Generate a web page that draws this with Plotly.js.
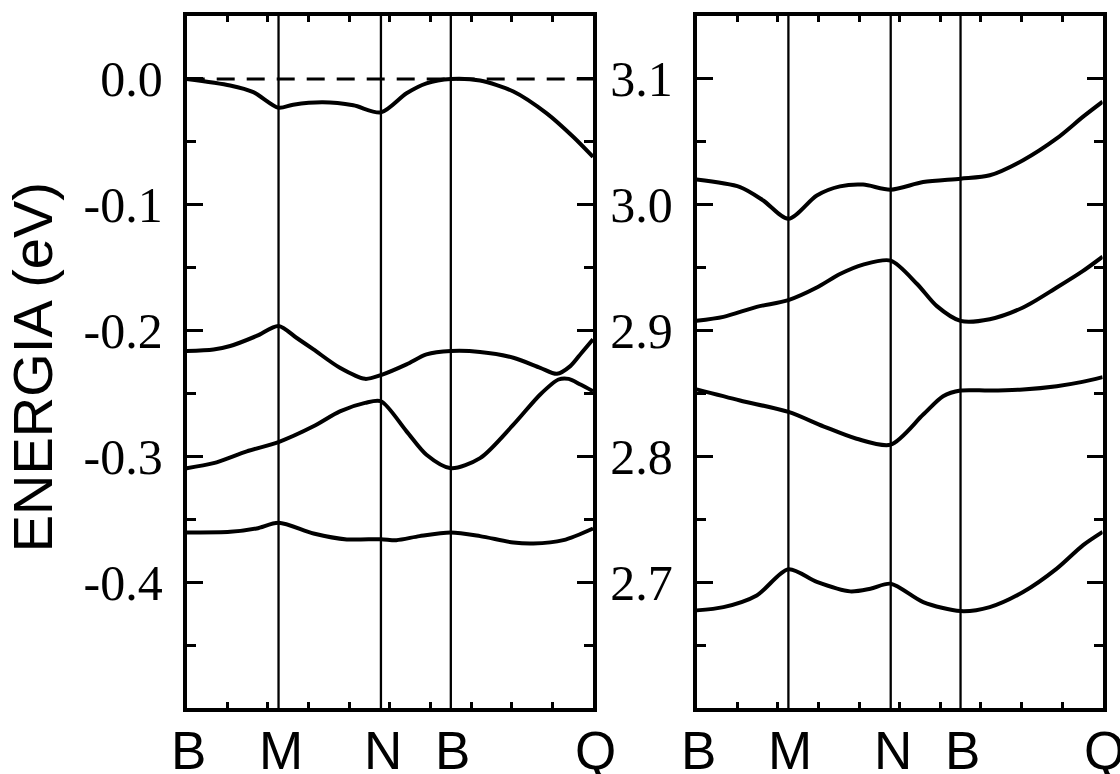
<!DOCTYPE html>
<html>
<head>
<meta charset="utf-8">
<script src="https://cdn.plot.ly/plotly-3.0.1.min.js"></script>
<style>html,body{margin:0;padding:0;background:#fff;}#chart{width:1120px;height:774px;}</style>
</head>
<body>
<div id="chart"></div>
<script>
// High-symmetry points along the path (fraction of path length)
const kPoints = [0, 0.226, 0.478, 0.65, 1.0];
const kLabels = ['B', 'M', 'N', 'B', 'Q'];
const fermiLevel = 0.0;

// Left panel: valence bands (eV)
const v1x = [0, 0.107, 0.164, 0.226, 0.262, 0.335, 0.41, 0.478, 0.541, 0.59, 0.65, 0.722, 0.804, 0.886, 0.951, 1.0];
const v1E = [0, -0.0052, -0.0105, -0.0229, -0.0205, -0.0186, -0.021, -0.0266, -0.0114, -0.0035, 0.0, -0.0013, -0.010, -0.0274, -0.046, -0.062];

const v2x = [0, 0.066, 0.107, 0.172, 0.226, 0.27, 0.312, 0.377, 0.439, 0.478, 0.541, 0.59, 0.65, 0.722, 0.804, 0.87, 0.911, 0.944, 0.972, 1.0];
const v2E = [-0.2163, -0.2150, -0.2123, -0.2043, -0.1963, -0.2057, -0.2150, -0.2296, -0.2384, -0.2354, -0.2269, -0.2190, -0.2163, -0.2170, -0.2216, -0.2296, -0.2344, -0.2283, -0.2176, -0.2070];

const v3x = [0, 0.066, 0.148, 0.226, 0.312, 0.377, 0.439, 0.478, 0.541, 0.59, 0.65, 0.722, 0.804, 0.87, 0.915, 0.94, 0.969, 1.0];
const v3E = [-0.3094, -0.3054, -0.2960, -0.2886, -0.2761, -0.2642, -0.2575, -0.2562, -0.2801, -0.2987, -0.3094, -0.3014, -0.2748, -0.2508, -0.2389, -0.2384, -0.2429, -0.2482];

const v4x = [0, 0.107, 0.172, 0.226, 0.312, 0.394, 0.478, 0.516, 0.573, 0.65, 0.722, 0.804, 0.853, 0.927, 1.0];
const v4E = [-0.3605, -0.3600, -0.3573, -0.3528, -0.3613, -0.3660, -0.3658, -0.3666, -0.3634, -0.3605, -0.3634, -0.3685, -0.3693, -0.3666, -0.3573];

// Right panel: conduction bands (eV)
const c1x = [0, 0.107, 0.164, 0.226, 0.296, 0.353, 0.41, 0.478, 0.558, 0.65, 0.722, 0.804, 0.887, 0.952, 1.0];
const c1E = [3.0200, 3.0140, 3.0034, 2.9888, 3.0074, 3.0146, 3.0160, 3.0120, 3.0180, 3.0207, 3.0234, 3.0354, 3.0527, 3.0700, 3.0819];

const c2x = [0, 0.066, 0.148, 0.226, 0.296, 0.353, 0.41, 0.478, 0.543, 0.591, 0.65, 0.722, 0.804, 0.887, 0.95, 1.0];
const c2E = [2.9077, 2.9109, 2.9188, 2.9242, 2.9342, 2.9449, 2.9524, 2.9556, 2.9370, 2.9196, 2.9077, 2.9090, 2.9183, 2.9342, 2.9470, 2.9587];

const c3x = [0, 0.107, 0.226, 0.312, 0.394, 0.478, 0.558, 0.607, 0.65, 0.722, 0.804, 0.887, 0.95, 1.0];
const c3E = [2.8532, 2.8444, 2.8353, 2.8239, 2.8140, 2.8093, 2.8332, 2.8478, 2.8523, 2.8523, 2.8532, 2.8558, 2.8592, 2.8630];

const c4x = [0, 0.066, 0.148, 0.226, 0.296, 0.378, 0.428, 0.478, 0.558, 0.65, 0.722, 0.804, 0.887, 0.952, 1.0];
const c4E = [2.6776, 2.6802, 2.6895, 2.7103, 2.7002, 2.6927, 2.6948, 2.6988, 2.6842, 2.6770, 2.6802, 2.6922, 2.7108, 2.7295, 2.7400];

// Tick labels
const yLeftTicks = [0.0, -0.1, -0.2, -0.3, -0.4];
const yLeftText = ['0.0', '-0.1', '-0.2', '-0.3', '-0.4'];
const yRightTicks = [3.1, 3.0, 2.9, 2.8, 2.7];
const yRightText = ['3.1', '3.0', '2.9', '2.8', '2.7'];
const yTitle = 'ENERGIA (eV)';

const bandLine = {color: '#000', width: 4, shape: 'spline', smoothing: 0.8};

function band(x, y, xa, ya) {
  return {x: x, y: y, xaxis: xa, yaxis: ya, mode: 'lines', line: bandLine, hoverinfo: 'skip', showlegend: false};
}

const traces = [
  {x: [kPoints[0], kPoints[kPoints.length - 1]], y: [fermiLevel, fermiLevel], xaxis: 'x', yaxis: 'y', mode: 'lines',
   line: {color: '#000', width: 3, dash: '18px,12px'}, hoverinfo: 'skip', showlegend: false},
  band(v1x, v1E, 'x', 'y'), band(v2x, v2E, 'x', 'y'), band(v3x, v3E, 'x', 'y'), band(v4x, v4E, 'x', 'y'),
  band(c1x, c1E, 'x2', 'y2'), band(c2x, c2E, 'x2', 'y2'), band(c3x, c3E, 'x2', 'y2'), band(c4x, c4E, 'x2', 'y2')
];

const shapes = [];
['x', 'x2'].forEach(function (xr, p) {
  const yr = p === 0 ? 'y domain' : 'y2 domain';
  kPoints.slice(1, -1).forEach(function (k) {
    shapes.push({type: 'line', xref: xr, yref: yr, x0: k, x1: k, y0: 0, y1: 1, line: {color: '#000', width: 2.3}});
  });
});

const annotations = [];
['x', 'x2'].forEach(function (xr) {
  kPoints.forEach(function (k, i) {
    annotations.push({xref: xr, yref: 'paper', x: k, y: -0.062, xanchor: 'center', yanchor: 'middle',
      text: kLabels[i], showarrow: false, xshift: 2,
      font: {family: 'Liberation Sans, Arial, sans-serif', size: 53, color: '#000'}});
  });
});
annotations.push({xref: 'paper', yref: 'paper', x: 0.029, y: 0.493, xanchor: 'center', yanchor: 'middle',
  text: yTitle, textangle: -90, showarrow: false,
  font: {family: 'Liberation Sans, Arial, sans-serif', size: 56, color: '#000'}});

const xCommon = {range: [0, 1], showline: true, linewidth: 4, linecolor: '#000', mirror: 'ticks',
  tickmode: 'linear', tick0: 0, dtick: 0.1, ticks: 'inside', ticklen: 6, tickwidth: 3, tickcolor: '#000',
  showticklabels: false, showgrid: false, zeroline: false, fixedrange: true};
const yCommon = {showline: true, linewidth: 4, linecolor: '#000', mirror: 'ticks',
  tickmode: 'array', ticks: 'inside', ticklen: 16, tickwidth: 3, tickcolor: '#000',
  minor: {tickmode: 'linear', dtick: 0.05, ticks: 'inside', ticklen: 9, tickwidth: 3, tickcolor: '#000', showgrid: false},
  ticklabelstandoff: 10,
  tickfont: {family: 'Liberation Serif, Times New Roman, serif', size: 50, color: '#000'},
  showgrid: false, zeroline: false, fixedrange: true};

const layout = {
  width: 1120, height: 774, autosize: false,
  margin: {l: 0, r: 0, t: 16, b: 66, pad: 0},
  paper_bgcolor: '#fff', plot_bgcolor: '#fff',
  showlegend: false,
  xaxis: Object.assign({}, xCommon, {domain: [0.1667, 0.5295], anchor: 'y'}),
  xaxis2: Object.assign({}, xCommon, {domain: [0.622, 0.9845], anchor: 'y2'}),
  yaxis: Object.assign({}, yCommon, {domain: [0, 1], anchor: 'x', range: [-0.5, 0.05], tickvals: yLeftTicks, ticktext: yLeftText,
    minor: Object.assign({}, yCommon.minor, {tick0: 0})}),
  yaxis2: Object.assign({}, yCommon, {domain: [0, 1], anchor: 'x2', range: [2.6, 3.15], tickvals: yRightTicks, ticktext: yRightText,
    minor: Object.assign({}, yCommon.minor, {tick0: 2.6})}),
  shapes: shapes,
  annotations: annotations
};

Plotly.newPlot('chart', traces, layout, {staticPlot: true, displayModeBar: false});
</script>
</body>
</html>
